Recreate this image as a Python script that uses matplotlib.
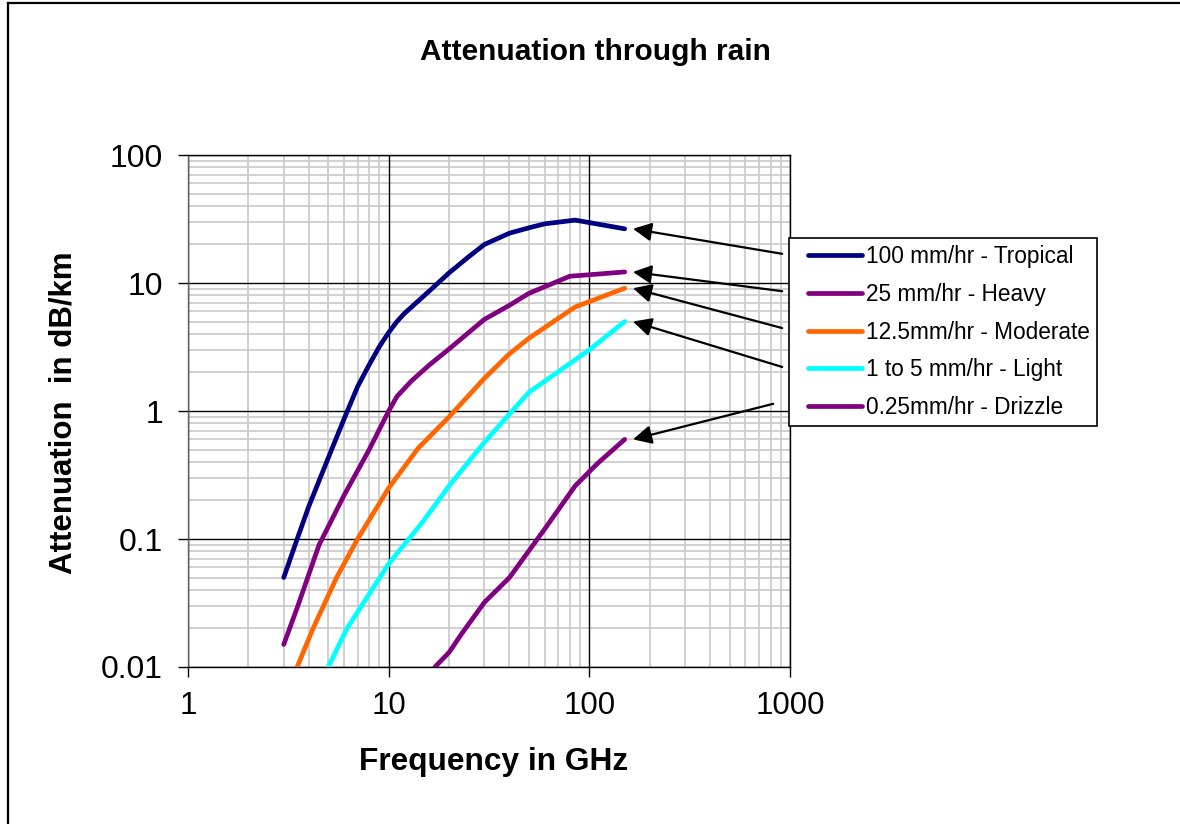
import matplotlib
matplotlib.use("Agg")
import numpy as np
import matplotlib.pyplot as plt
from matplotlib.ticker import LogLocator, FixedLocator, FixedFormatter, NullFormatter
from matplotlib.lines import Line2D
from matplotlib.legend_handler import HandlerLine2D

plt.rcParams['font.family'] = ['Liberation Sans', 'DejaVu Sans']

# ---- data ----
trop_f = [3, 3.5, 4, 5, 6, 7, 8, 9, 10, 11, 12, 16, 20, 25, 30, 40, 50, 60, 85, 150]
trop_a = [0.05, 0.1, 0.18, 0.43, 0.87, 1.55, 2.3, 3.2, 4.1, 5.0, 5.8, 8.7, 12, 16, 20, 24.5, 27, 29, 31, 26.5]

heavy_f = [3, 3.5, 4.5, 6, 8, 10, 11, 13, 16, 20, 30, 40, 50, 80, 100, 150]
heavy_a = [0.015, 0.029, 0.09, 0.22, 0.5, 1.0, 1.3, 1.72, 2.3, 3.05, 5.2, 6.7, 8.3, 11.3, 11.6, 12.2]

mod_f = [3.5, 4.2, 5.5, 7, 10, 14, 20, 30, 40, 50, 85, 150]
mod_a = [0.01, 0.02, 0.05, 0.1, 0.25, 0.51, 0.9, 1.8, 2.8, 3.7, 6.5, 9.1]

light_f = [5, 6.2, 7.8, 10, 15, 20, 30, 50, 100, 150]
light_a = [0.01, 0.02, 0.035, 0.064, 0.14, 0.26, 0.57, 1.4, 3.0, 5.0]

drz_f = [17, 20, 23, 30, 40, 60, 85, 110, 150]
drz_a = [0.01, 0.013, 0.018, 0.032, 0.05, 0.12, 0.26, 0.39, 0.6]

labels = ["100 mm/hr - Tropical", "25 mm/hr - Heavy", "12.5mm/hr - Moderate",
          "1 to 5 mm/hr - Light", "0.25mm/hr - Drizzle"]
colors = ["#000080", "#800080", "#FF6600", "#00FFFF", "#800080"]

x_ticks = [1, 10, 100, 1000]
x_tick_labels = ["1", "10", "100", "1000"]
y_ticks = [0.01, 0.1, 1, 10, 100]
y_tick_labels = ["0.01", "0.1", "1", "10", "100"]

# arrow tails in axes fraction (from legend side)
arrow_tail_x = [0.987, 0.987, 0.987, 0.987, 0.972]
arrow_tail_y = [0.807, 0.734, 0.662, 0.586, 0.514]

title = "Attenuation through rain"
xlabel = "Frequency in GHz"
ylabel = "Attenuation  in dB/km"


class PaddedLine(HandlerLine2D):
    def get_xdata(self, legend, xdescent, ydescent, width, height, fontsize):
        x0 = -xdescent + width * 0.18
        x1 = -xdescent + width
        xd = np.array([x0, x1])
        return xd, xd


# ---- figure ----
fig = plt.figure(figsize=(11.8, 8.24), dpi=100)
ax = fig.add_axes([188/1180, 1-667/824, (790-188)/1180, (667-155)/824])

series = [(trop_f, trop_a), (heavy_f, heavy_a), (mod_f, mod_a),
          (light_f, light_a), (drz_f, drz_a)]
handles = []
for (f, a), c, lab in zip(series, colors, labels):
    h, = ax.plot(f, a, color=c, lw=3.4, label=lab, solid_capstyle='round',
                 solid_joinstyle='round', zorder=3)
    handles.append(h)

ax.set_xscale('log')
ax.set_yscale('log')
ax.set_xlim(1, 1000)
ax.set_ylim(0.01, 100)

ax.xaxis.set_major_locator(FixedLocator(x_ticks))
ax.xaxis.set_major_formatter(FixedFormatter(x_tick_labels))
ax.yaxis.set_major_locator(FixedLocator(y_ticks))
ax.yaxis.set_major_formatter(FixedFormatter(y_tick_labels))
ax.xaxis.set_minor_locator(LogLocator(base=10, subs=range(2, 10)))
ax.yaxis.set_minor_locator(LogLocator(base=10, subs=range(2, 10)))
ax.xaxis.set_minor_formatter(NullFormatter())
ax.yaxis.set_minor_formatter(NullFormatter())

ax.set_axisbelow(True)
ax.grid(which='minor', color='#c8c8c8', lw=1.2)
ax.grid(which='major', visible=False)
for v in x_ticks:
    ax.axvline(v, color='black', lw=1.0, zorder=1)
for v in y_ticks:
    ax.axhline(v, color='black', lw=1.0, zorder=1)

ax.tick_params(which='major', direction='out', length=7, width=1, color='black')
ax.tick_params(axis='x', labelsize=22.5, pad=10)
ax.tick_params(axis='y', labelsize=23, pad=11)
ax.tick_params(which='minor', length=0)
for s in ax.spines.values():
    s.set_color('black')
    s.set_linewidth(1.0)
ax.spines['left'].set_color('#606060')

# arrows
for (f, a), tx, ty in zip(series, arrow_tail_x, arrow_tail_y):
    ax.annotate("", xy=(f[-1] * 1.1, a[-1]), xycoords='data',
                xytext=(tx, ty), textcoords='axes fraction',
                arrowprops=dict(arrowstyle='-|>', lw=1.6, color='black',
                                mutation_scale=28, shrinkA=0, shrinkB=0),
                zorder=5, annotation_clip=False)

leg = ax.legend(handles=handles, labels=labels,
                handler_map={Line2D: PaddedLine()},
                loc='upper left', bbox_to_anchor=(0.998, 0.838), borderaxespad=0,
                fancybox=False, frameon=True, edgecolor='black', framealpha=1,
                prop={'size': 16.3}, handlelength=2.9, handletextpad=0.18,
                labelspacing=0.65, borderpad=0.32)
leg.get_frame().set_linewidth(1.2)
leg.set_zorder(6)

fig.text(595/1180, 1-52/824, title, ha='center', va='center',
         fontsize=21.5, fontweight='bold')
fig.text(494/1180, 1-762/824, xlabel, ha='center', va='center',
         fontsize=22.8, fontweight='bold')
fig.text(64/1180, 1-413/824, ylabel, ha='center', va='center', rotation=90,
         fontsize=22.5, fontweight='bold')

# figure border (top and left)
fig.add_artist(Line2D([8/1180, 1.0], [1-2.5/824, 1-2.5/824], color='black', lw=1.6,
                      transform=fig.transFigure))
fig.add_artist(Line2D([8/1180, 8/1180], [0, 1-2.5/824], color='black', lw=1.6,
                      transform=fig.transFigure))

fig.savefig("out.png", dpi=100)
